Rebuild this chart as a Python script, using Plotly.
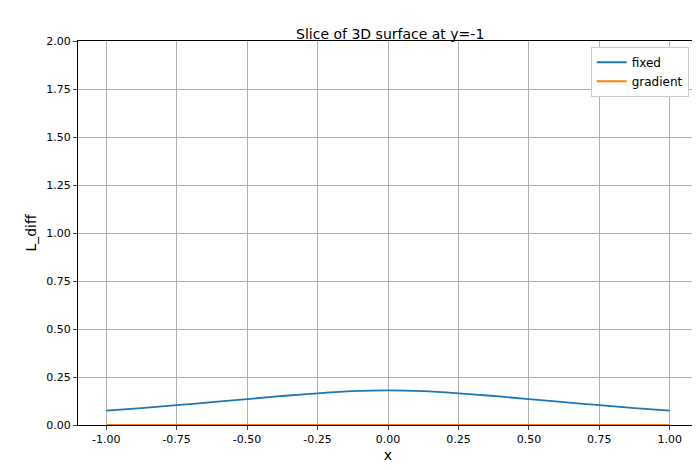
import plotly.graph_objects as go

x_vals = [-1.0, -0.875, -0.75, -0.625, -0.5, -0.375, -0.25, -0.125, 0.0,
          0.125, 0.25, 0.375, 0.5, 0.625, 0.75, 0.875, 1.0]
fixed_vals = [0.075, 0.088, 0.103, 0.119, 0.135, 0.151, 0.165, 0.176, 0.180,
              0.176, 0.165, 0.151, 0.135, 0.119, 0.103, 0.088, 0.075]
gradient_vals = [0.0] * len(x_vals)

x_ticks = [-1.0, -0.75, -0.5, -0.25, 0.0, 0.25, 0.5, 0.75, 1.0]
y_ticks = [0, 0.25, 0.5, 0.75, 1.0, 1.25, 1.5, 1.75, 2.0]

fig = go.Figure()
fig.add_trace(go.Scatter(x=x_vals, y=fixed_vals, mode='lines', name='fixed', cliponaxis=False,
                         line=dict(color='#1f77b4', width=1.8, shape='spline')))
fig.add_trace(go.Scatter(x=x_vals, y=gradient_vals, mode='lines', name='gradient', cliponaxis=False,
                         line=dict(color='#ff7f0e', width=1.8)))

axis_style = dict(showgrid=True, gridcolor='#b0b0b0', gridwidth=1, showline=True,
                  linecolor='black', mirror=True, ticks='outside', ticklen=4,
                  zeroline=False, automargin=False, layer='below traces',
                  tickfont=dict(size=11, color='black'))
fig.update_xaxes(range=[-1.1, 1.1], tickvals=x_ticks,
                 ticktext=[f'{v:.2f}' for v in x_ticks],
                 title=dict(text='x', standoff=4), **axis_style)
fig.update_yaxes(range=[0, 2], tickvals=y_ticks,
                 ticktext=[f'{v:.2f}' for v in y_ticks],
                 title=dict(text='L_diff', standoff=6), **axis_style)

fig.update_layout(
    width=700, height=470,
    title=dict(text='Slice of 3D surface at y=-1', x=0.546, y=0.955, xanchor='center',
               font=dict(size=14, color='black')),
    font=dict(family='DejaVu Sans', size=12, color='black'),
    plot_bgcolor='white', paper_bgcolor='white',
    margin=dict(l=70, r=10, t=33, b=53),
    legend=dict(x=0.985, y=0.985, xanchor='right', yanchor='top',
                bgcolor='white', bordercolor='#cccccc', borderwidth=1,
                font=dict(size=12)),
)

fig.write_html("out.html")
